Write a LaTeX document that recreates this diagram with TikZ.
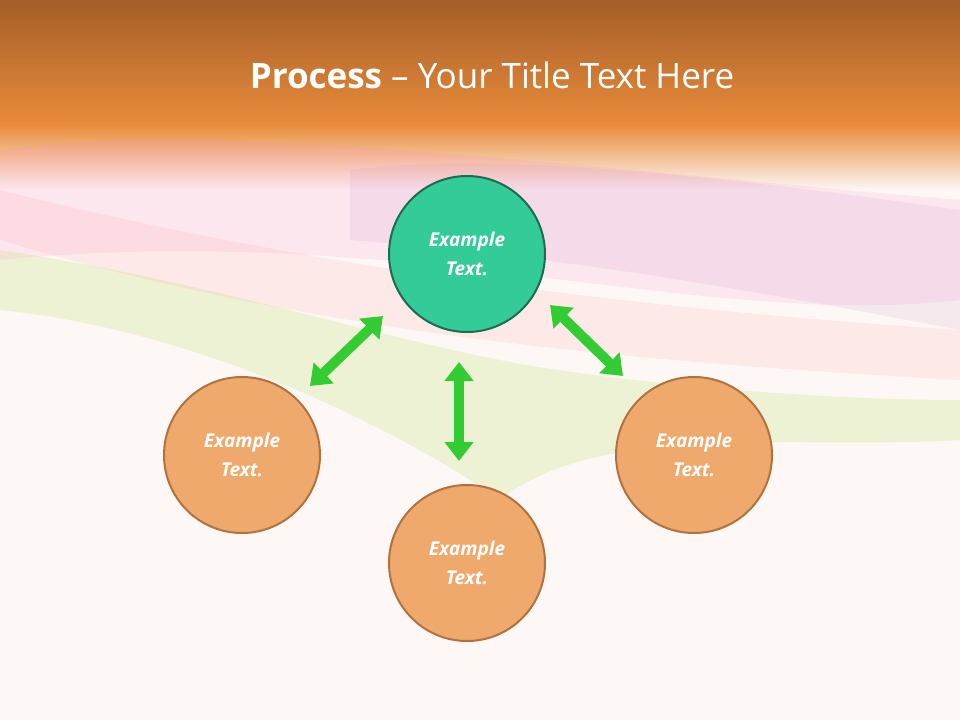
\documentclass[tikz,border=0pt]{standalone}
\usepackage{fontspec}
\setmainfont{Open Sans}
\usetikzlibrary{arrows.meta}
\definecolor{bg}{HTML}{FDF8F5}
\definecolor{otop}{HTML}{A45E2A}
\definecolor{obot}{HTML}{E98C3A}
\definecolor{tealf}{HTML}{33CB98}
\definecolor{teald}{HTML}{1E6B52}
\definecolor{orf}{HTML}{F0A96C}
\definecolor{ord}{HTML}{B0733F}
\definecolor{grn}{HTML}{33CC33}
\tikzset{
  circ/.style={circle,minimum size=156pt,line width=2pt,text=white,align=center,
    font=\bfseries\itshape\fontsize{19}{29}\selectfont},
  tealc/.style={circ,fill=tealf,draw=teald},
  orc/.style={circ,fill=orf,draw=ord},
  dbl/.style={grn,line width=10pt,{Triangle[width=28pt,length=19pt]}-{Triangle[width=28pt,length=19pt]}},
  smoke/.style={opacity=0.15}
}
\begin{document}
\begin{tikzpicture}[x=1pt,y=-1pt]
\useasboundingbox (0,0) rectangle (960,720);
\fill[bg] (0,0) rectangle (960,720);
% title bar
\shade[top color=otop,bottom color=obot] (0,0) rectangle (960,125);
\shade[top color=obot,bottom color=bg] (0,125) rectangle (960,190);
% smoke bands
\fill[smoke,pink!70!magenta] (0,150) .. controls (200,120) and (500,160) .. (960,200) -- (960,300) .. controls (700,330) and (400,220) .. (0,260) -- cycle;
\fill[smoke,violet!40] (350,170) .. controls (500,150) and (750,180) .. (960,210) -- (960,330) .. controls (800,300) and (600,260) .. (350,240) -- cycle;
\fill[smoke,yellow!60!green] (0,250) .. controls (200,280) and (350,330) .. (500,360) .. controls (600,380) and (800,400) .. (960,400) -- (960,440) .. controls (800,450) and (600,420) .. (500,500) .. controls (400,430) and (200,330) .. (0,310) -- cycle;
\fill[smoke,red!40] (0,190) .. controls (200,240) and (500,300) .. (960,330) -- (960,380) .. controls (600,360) and (300,330) .. (0,240) -- cycle;
\node[text=white,font=\fontsize{35}{40}\selectfont] (title) at (492,75) {\textbf{Process} – Your Title Text Here};
% circles
\node[tealc] (t) at (467,254) {Example\\Text.};
\node[orc] (l) at (242,455) {Example\\Text.};
\node[orc] (b) at (467,563) {Example\\Text.};
\node[orc] (r) at (694,455) {Example\\Text.};
% arrows
\coordinate (a1) at (310,386); \coordinate (a2) at (383,316);
\coordinate (b1) at (459,362); \coordinate (b2) at (459,461);
\coordinate (c1) at (550,305); \coordinate (c2) at (623,376);
\draw[dbl] (a1) -- (a2);
\draw[dbl] (b1) -- (b2);
\draw[dbl] (c1) -- (c2);
\end{tikzpicture}
\end{document}
